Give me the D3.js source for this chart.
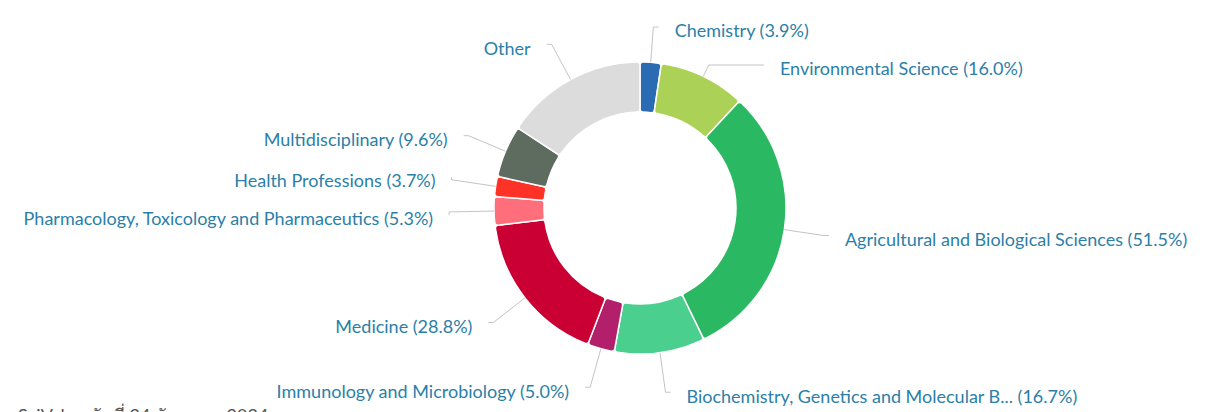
<!DOCTYPE html>
<html>
<head>
<meta charset="utf-8">
<script src="https://cdn.jsdelivr.net/npm/d3@7"></script>
<style>
  html, body { margin: 0; padding: 0; background: #fff; }
  svg { display: block; }
  text { font-family: Lato, "Noto Sans", "DejaVu Sans", sans-serif; }
</style>
</head>
<body>
<svg id="chart" width="1205" height="412"></svg>
<script>
// ---- data ----
const categories = [
  "Chemistry",
  "Environmental Science",
  "Agricultural and Biological Sciences",
  "Biochemistry, Genetics and Molecular B...",
  "Immunology and Microbiology",
  "Medicine",
  "Pharmacology, Toxicology and Pharmaceutics",
  "Health Professions",
  "Multidisciplinary",
  "Other"
];
const values = [3.9, 16.0, 51.5, 16.7, 5.0, 28.8, 5.3, 3.7, 9.6, 26.3];
const showPercent = [true, true, true, true, true, true, true, true, true, false];
const colors = ["#2b6bb4", "#acd157", "#2bb862", "#4bcf8f", "#b21f6b",
                "#ca0034", "#ff6f7b", "#ff3228", "#5e6c60", "#dcdcdc"];
const footnote = "SciVal ณ วันที่ 24 กันยายน 2024";

// ---- layout ----
const W = 1205, H = 412;
const cx = 640, cy = 208;
const R = 146, r0 = 96;
const labelDist = 40;       // label radius beyond outer edge
const minGap = 38;          // min vertical distance between labels
const topBound = 27, bottomBound = 400;
const textColor = "#2b7fa8";
const fontSize = 18;

const svg = d3.select("#chart");
const g = svg.append("g");

const pie = d3.pie().sort(null).value(d => d).startAngle(0).endAngle(2 * Math.PI);
const arcs = pie(values);
const arc = d3.arc().innerRadius(r0).outerRadius(R).cornerRadius(3);

g.append("g").selectAll("path").data(arcs).join("path")
  .attr("transform", `translate(${cx},${cy})`)
  .attr("d", arc)
  .attr("fill", (d, i) => colors[i])
  .attr("stroke", "#fff")
  .attr("stroke-width", 1.5)
  .attr("stroke-linejoin", "round");

// label positions
const rD = R + labelDist;
const items = arcs.map((d, i) => {
  const a = (d.startAngle + d.endAngle) / 2;
  const ny = cy - rD * Math.cos(a);
  return { i, a, ny, y: ny, left: a > Math.PI };
});

function resolve(list) {
  list.sort((p, q) => p.ny - q.ny);
  for (let it = 0; it < 200; it++) {
    for (let k = 0; k < list.length - 1; k++) {
      const p = list[k], q = list[k + 1];
      const gap = q.y - p.y;
      if (gap < minGap) {
        const s = (minGap - gap) / 2;
        p.y -= s; q.y += s;
      }
    }
    list.forEach(p => { p.y = Math.max(topBound, Math.min(bottomBound, p.y)); });
  }
}
resolve(items.filter(d => !d.left));
resolve(items.filter(d => d.left));

items.forEach(d => {
  const sign = d.left ? -1 : 1;
  const useNatural = Math.abs(d.ny - cy) > 0.95 * rD;
  const dy = (useNatural ? d.ny : d.y) - cy;
  d.endX = cx + sign * (Math.sqrt(Math.max(0, rD * rD - dy * dy)) + 5);
  const sx = cx + R * Math.sin(d.a), sy = cy - R * Math.cos(d.a);
  // radial segment until label height, clamped to the connector end
  let t = Math.cos(d.a) !== 0 ? (cy - d.y) / Math.cos(d.a) : Infinity;
  if (!(t > R)) t = Infinity;
  const tMaxX = Math.abs(Math.sin(d.a)) > 1e-6 ? (d.endX - cx) / Math.sin(d.a) : Infinity;
  if (tMaxX > 0) t = Math.min(t, tMaxX);
  let bx = cx + t * Math.sin(d.a), by = cy - t * Math.cos(d.a);
  if (!isFinite(t)) { bx = d.endX; by = d.y; }
  d.path = [[sx, sy], [bx, by], [d.endX, d.y]];
});

g.append("g").selectAll("path").data(items).join("path")
  .attr("d", d => d3.line()(d.path))
  .attr("fill", "none")
  .attr("stroke", "#c4c4c4")
  .attr("stroke-width", 1);

g.append("g").selectAll("text").data(items).join("text")
  .attr("x", d => d.endX + (d.left ? -16 : 16))
  .attr("y", d => d.y + 4)
  .attr("dy", "0.35em")
  .attr("text-anchor", d => d.left ? "end" : "start")
  .attr("font-size", fontSize)
  .attr("fill", textColor)
  .text(d => categories[d.i] + (showPercent[d.i] ? ` (${values[d.i].toFixed(1)}%)` : ""));

svg.append("text")
  .attr("x", 18).attr("y", 422)
  .attr("font-size", fontSize)
  .attr("fill", "#555")
  .text(footnote);
</script>
</body>
</html>
